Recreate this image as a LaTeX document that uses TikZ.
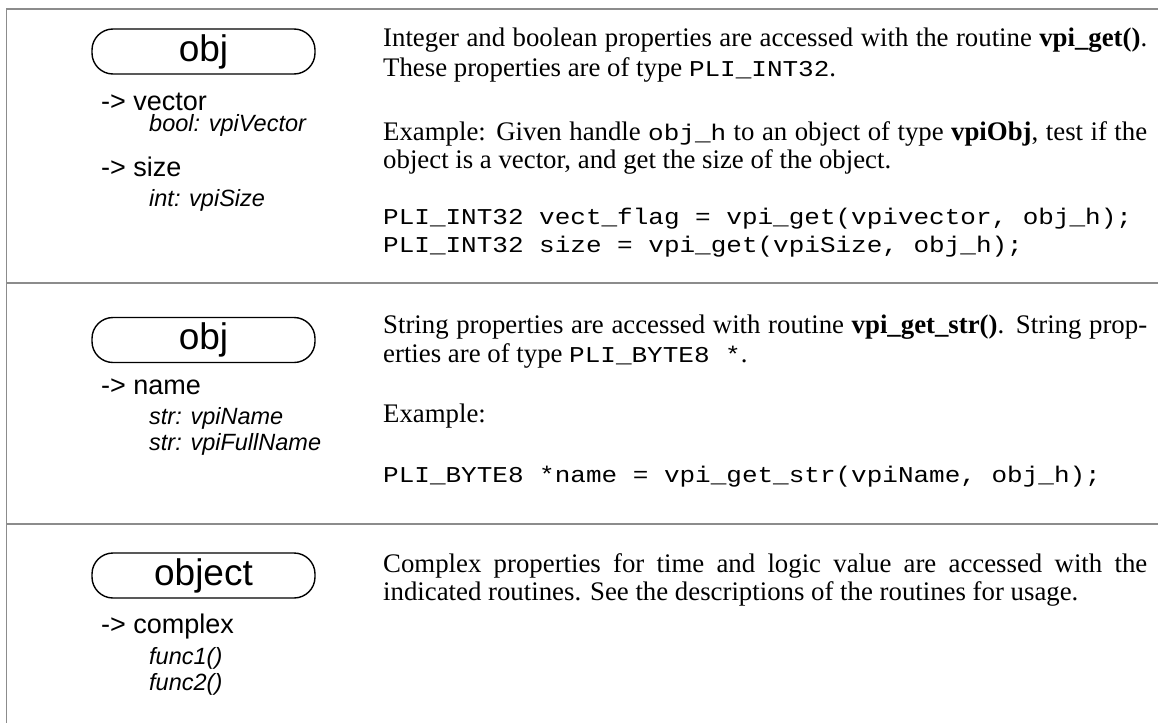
\documentclass[tikz,border=0pt]{standalone}
\usepackage{fontspec}
\usepackage{graphicx}
\setmainfont{Liberation Serif}
\setsansfont{Liberation Sans}
\setmonofont{Liberation Mono}
\newcommand{\codefont}{\fontsize{26}{28}\ttfamily}
\newcommand{\tf}[1]{\scalebox{1}[0.87]{\codefont #1}}
\tikzset{
  sep/.style={draw=black!45, line width=1.4pt},
  objbox/.style={draw=black, line width=1.4pt, rounded corners=21pt, minimum width=223pt, minimum height=45pt, inner sep=0pt, font=\sffamily\fontsize{37}{40}\selectfont},
  prop/.style={anchor=base west, inner sep=0pt, font=\sffamily\fontsize{27}{30}\selectfont},
  attr/.style={anchor=base west, inner sep=0pt, font=\sffamily\itshape\fontsize{23.5}{26}\selectfont},
  txt/.style={anchor=base west, inner sep=0pt, font=\fontsize{26.8}{30}\selectfont},
  code/.style={anchor=base west, inner sep=0pt},
}
\begin{document}
\begin{tikzpicture}[x=1pt,y=-1pt]
\useasboundingbox (0,0) rectangle (1158,723);
% frame lines
\coordinate (tl) at (6.5,9);
\coordinate (tr) at (1158,9);
\coordinate (bl) at (6.5,723);
\coordinate (s1l) at (6.5,283);
\coordinate (s1r) at (1158,283);
\coordinate (s2l) at (6.5,524);
\coordinate (s2r) at (1158,524);
\draw[sep] (tr) -- (tl) -- (bl);
\draw[sep] (s1l) -- (s1r);
\draw[sep] (s2l) -- (s2r);
% section 1
\node[objbox] (o1) at (203.5,51.5) {obj};
\node[prop] (p1) at (101,110) {-> vector};
\node[attr] (a1) at (149,131) {bool: vpiVector};
\node[prop] (p2) at (101,176) {-> size};
\node[attr] (a2) at (149,206) {int: vpiSize};
\node[txt] (t1) at (383,46) {\makebox[764pt][s]{Integer and boolean properties are accessed with the routine \textbf{vpi\_get()}.}};
\node[txt] (t2) at (383,76) {These properties are of type \tf{PLI\_INT32}.};
\node[txt] (t3) at (383,140) {\makebox[764pt][s]{Example: Given handle \tf{obj\_h} to an object of type \textbf{vpiObj}, test if the}};
\node[txt] (t4) at (383,168) {object is a vector, and get the size of the object.};
\node[code] (c1) at (383,224) {\tf{PLI\_INT32 vect\_flag = vpi\_get(vpivector, obj\_h);}};
\node[code] (c2) at (383,252) {\tf{PLI\_INT32 size = vpi\_get(vpiSize, obj\_h);}};
% section 2
\node[objbox] (o2) at (203.5,340) {obj};
\node[prop] (p3) at (101,394) {-> name};
\node[attr] (a3) at (149,424) {str: vpiName};
\node[attr] (a4) at (149,450) {str: vpiFullName};
\node[txt] (t5) at (383,333) {\makebox[764pt][s]{String properties are accessed with routine \textbf{vpi\_get\_str()}. String prop-}};
\node[txt] (t6) at (383,362) {erties are of type \tf{PLI\_BYTE8 *}.};
\node[txt] (t7) at (383,422) {Example:};
\node[code] (c3) at (383,482) {\tf{PLI\_BYTE8 *name = vpi\_get\_str(vpiName, obj\_h);}};
% section 3
\node[objbox] (o3) at (203.5,575.5) {object};
\node[prop] (p4) at (101,633) {-> complex};
\node[attr] (a5) at (149,664) {func1()};
\node[attr] (a6) at (149,690) {func2()};
\node[txt] (t8) at (383,572) {\makebox[764pt][s]{Complex properties for time and logic value are accessed with the}};
\node[txt] (t9) at (383,600) {indicated routines. See the descriptions of the routines for usage.};
\end{tikzpicture}
\end{document}
